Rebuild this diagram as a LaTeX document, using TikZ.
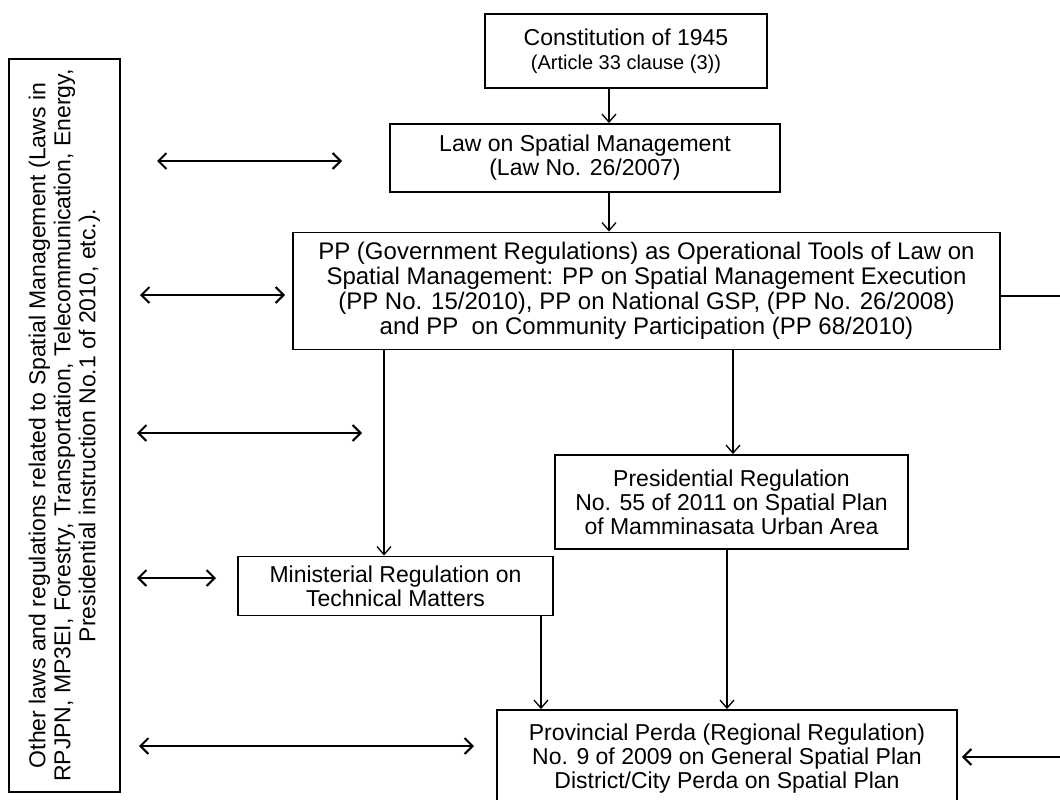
\documentclass[tikz,border=0pt]{standalone}
\usepackage{fontspec}
\setmainfont{Liberation Sans}
\usetikzlibrary{arrows.meta}
\begin{document}
\begin{tikzpicture}[x=1pt,y=-1pt,
  box/.style={draw, line width=1.9pt, inner sep=0pt, align=center,
    font=\fontsize{23}{24}\selectfont},
  flow/.style={line width=1.3pt, -{Straight Barb[length=8pt,width=14pt,line width=1.3pt]}},
  link/.style={line width=2pt, {Straight Barb[length=8pt,width=16pt,line width=2pt]}-{Straight Barb[length=8pt,width=16pt,line width=2pt]}},
  inlink/.style={line width=2pt, -{Straight Barb[length=8pt,width=16pt,line width=2pt]}},
  tail/.style={line width=2pt}]
\useasboundingbox (0,0) rectangle (1060,800);

% regulation boxes, top to bottom
\node[box, minimum width=282pt, minimum height=74pt] (const) at (626,51)
  {Constitution of 1945\\{\fontsize{20}{22}\selectfont(Article 33 clause (3))}};
\node[box, minimum width=390pt, minimum height=68pt] (law) at (585,158)
  {Law on Spatial Management\\(Law No. 26/2007)};
\node[box, minimum width=707pt, minimum height=117pt, font=\fontsize{24}{25}\selectfont] (pp) at (646.5,291)
  {PP (Government Regulations) as Operational Tools of Law on\\
   Spatial Management: PP on Spatial Management Execution\\
   (PP No. 15/2010), PP on National GSP, (PP No. 26/2008)\\
   and PP\ \ on Community Participation (PP 68/2010)};
\node[box, minimum width=353pt, minimum height=94pt] (pres) at (731.5,502)
  {Presidential Regulation\\No. 55 of 2011 on Spatial Plan\\of Mamminasata Urban Area};
\node[box, minimum width=315pt, minimum height=59pt] (mini) at (395.5,586)
  {Ministerial Regulation on\\Technical Matters};
\node[box, minimum width=460pt, minimum height=98pt] (perda) at (727,759)
  {Provincial Perda (Regional Regulation)\\No. 9 of 2009 on General Spatial Plan\\District/City Perda on Spatial Plan};

% related laws, set sideways
\node[box, minimum width=733pt, minimum height=111pt, rotate=90, font=\fontsize{23}{25}\selectfont] (other) at (64.5,425.5)
  {Other laws and regulations related to Spatial Management (Laws in\\
   RPJPN, MP3EI, Forestry, Transportation, Telecommunication, Energy,\\
   Presidential instruction No.1 of 2010, etc.).};

% columns of the downward connectors
\coordinate (c1) at (609,0);
\coordinate (c2) at (384,0);
\coordinate (c3) at (733,0);
\coordinate (c4) at (541,0);
\coordinate (c5) at (727,0);

\draw[flow] (const.south -| c1) -- (law.north -| c1);
\draw[flow] (law.south -| c1) -- (pp.north -| c1);
\draw[flow] (pp.south -| c2) -- (mini.north -| c2);
\draw[flow] (pp.south -| c3) -- (pres.north -| c3);
\draw[flow] (mini.south -| c4) -- (perda.north -| c4);
\draw[flow] (pres.south -| c5) -- (perda.north -| c5);

% two-way links to the related laws
\coordinate (l1a) at (157,161);  \coordinate (l1b) at (342,161);
\coordinate (l2a) at (140,295);  \coordinate (l2b) at (285,295);
\coordinate (l3a) at (137,433);  \coordinate (l3b) at (362,433);
\coordinate (l4a) at (137,578);  \coordinate (l4b) at (216,578);
\coordinate (l5a) at (139,746);  \coordinate (l5b) at (474,746);
\draw[link] (l1a) -- (l1b);
\draw[link] (l2a) -- (l2b);
\draw[link] (l3a) -- (l3b);
\draw[link] (l4a) -- (l4b);
\draw[link] (l5a) -- (l5b);

% feedback route along the right edge
\coordinate (r1) at (1062,296);
\coordinate (r2) at (1062,757);
\draw[tail] (pp.east |- r1) -- (r1);
\draw[inlink] (r2) -- ([xshift=4pt]perda.east |- r2);
\end{tikzpicture}
\end{document}
